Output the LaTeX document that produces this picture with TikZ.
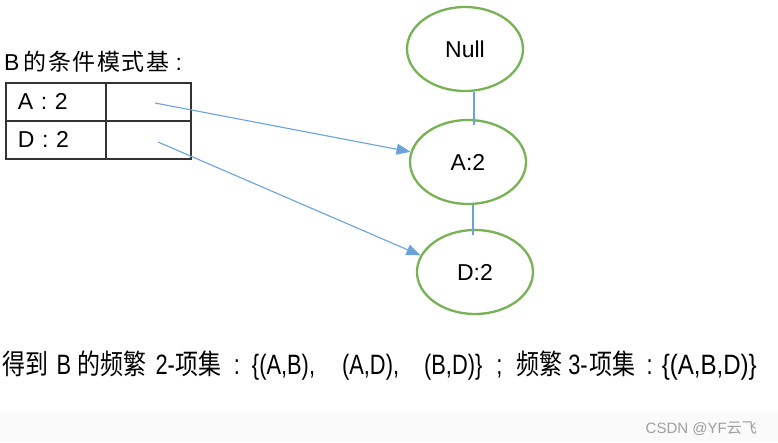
\documentclass[tikz,border=0pt]{standalone}
\usepackage{fontspec}
\setmainfont{Liberation Sans}
\newfontfamily\cjk{Noto Sans CJK SC}
\newfontfamily\cjkt[LetterSpace=7]{Noto Sans CJK SC}
\usetikzlibrary{arrows.meta,shapes.geometric}
\definecolor{egreen}{HTML}{77B255}
\definecolor{ablue}{HTML}{6AA3DA}
\definecolor{tline}{HTML}{333333}
\definecolor{band}{HTML}{FAFAFA}
\newcommand\cjkseg[1]{\scalebox{0.82}[1]{\cjk #1}}
\newcommand\latseg[1]{\scalebox{0.78}[1]{#1}}
\begin{document}
\begin{tikzpicture}[x=1pt,y=-1pt,
  ell/.style={draw=egreen, line width=2.3pt, ellipse, minimum width=116pt, minimum height=84pt, inner sep=0pt, font=\fontsize{23}{27}\selectfont},
  cell/.style={draw=tline, line width=1.8pt, rectangle, minimum height=38pt, inner ysep=0pt, inner xsep=12pt, anchor=north west, align=left, font=\fontsize{23}{27}\selectfont},
  arr/.style={draw=ablue, line width=1.1pt, -{Triangle[length=14pt,width=11pt]}},
  link/.style={draw=ablue, line width=1.1pt},
  txt/.style={inner sep=0pt, anchor=west, font=\fontsize{23}{27}\selectfont}]
\useasboundingbox (0,0) rectangle (778,442);
\fill[white] (0,0) rectangle (778,442);
\fill[band] (0,412) rectangle (778,442);

\node[txt] (title) at (4,62) {B\hspace{4pt}{\cjkt 的条件模式基}\hspace{6pt}:};

\node[cell, text width=76pt] (c11) at (5,82) {A : 2};
\node[cell, text width=61pt] (c12) at (105,82) {};
\node[cell, text width=76pt] (c21) at (5,120) {D : 2};
\node[cell, text width=61pt] (c22) at (105,120) {};

\node[ell] (null) at (465,49) {Null};
\node[ell] (a) at (468,162) {A:2};
\node[ell] (d) at (475,272) {D:2};

\draw[link] ([xshift=9pt]null.south) -- ([xshift=6pt,yshift=-6pt]a.north);
\draw[link] ([xshift=5pt]a.south) -- ([xshift=-2pt,yshift=-6pt]d.north);

\coordinate (s1) at (155,103);
\coordinate (s2) at (158,142);
\draw[arr] (s1) -- (a.170);
\draw[arr] (s2) -- (d.163);

\node[txt, font=\fontsize{28}{32}\selectfont] (result) at (2,366) {\cjkseg{得到}\hspace{8.5pt}\latseg{B}\hspace{6.5pt}\cjkseg{的频繁}\hspace{9pt}\latseg{2-}\hspace{1pt}\cjkseg{项集}\hspace{12pt}\latseg{:}\hspace{12pt}\latseg{\{(A,B),}\hspace{27pt}\latseg{(A,D),}\hspace{25pt}\latseg{(B,D)\}}\hspace{14pt}\latseg{;}\hspace{14pt}\cjkseg{频繁}\hspace{6pt}\latseg{3-}\hspace{2pt}\cjkseg{项集}\hspace{11pt}\latseg{:}\hspace{9pt}\scalebox{0.86}[1]{\{(A,B,D)\}}};

\node[inner sep=0pt, anchor=east, text=gray!75, font=\fontsize{15}{18}\selectfont] (wm) at (757,429) {CSDN @YF{\cjk 云飞}};
\end{tikzpicture}
\end{document}
